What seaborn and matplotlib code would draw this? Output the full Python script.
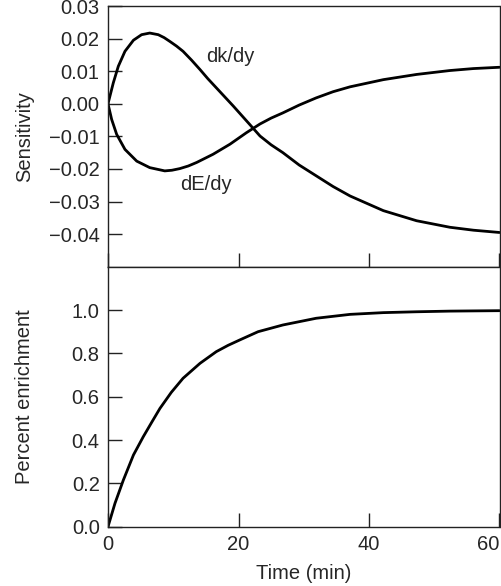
import matplotlib
matplotlib.use("Agg")
import matplotlib.pyplot as plt
import seaborn as sns
import pandas as pd

# Sensitivity of the model output to y (time in minutes)
t_dk = [0, 0.81, 1.58, 2.6, 3.9, 5.15, 6.4, 7.7, 8.6, 9.5, 10.5, 11.5, 12.8, 14.1,
        15.3, 16.6, 19.2, 21.7, 23.3, 25, 26.8, 29.3, 31.9, 34.5, 37.1, 42.2, 47.3,
        52.4, 56, 60]
dk_dy = [0, 0.0064, 0.0115, 0.0161, 0.0195, 0.0212, 0.0217, 0.0212, 0.0203, 0.0191,
         0.0177, 0.0161, 0.0134, 0.0105, 0.0077, 0.0049, -0.0007, -0.0063, -0.0099,
         -0.0126, -0.0150, -0.0188, -0.0221, -0.0254, -0.0283, -0.0328, -0.0359,
         -0.0379, -0.0388, -0.0395]

t_de = [0, 0.56, 1.33, 2.6, 4.4, 6.4, 8.7, 9.8, 11, 12.3, 13.6, 16.1, 18.7, 21.2,
        23.3, 25, 26.8, 29.3, 31.9, 34.5, 37.1, 42.2, 47.3, 52.4, 56, 60]
de_dy = [0, -0.0048, -0.0094, -0.0140, -0.0176, -0.0196, -0.0206, -0.0204, -0.0199,
         -0.0191, -0.0180, -0.0155, -0.0124, -0.0089, -0.0062, -0.0044, -0.0028,
         -0.0004, 0.0018, 0.0037, 0.0052, 0.0074, 0.0090, 0.0102, 0.0108, 0.0112]

# Enrichment over time
t_en = [0, 1.07, 2.35, 3.9, 5.4, 6.7, 7.96, 9.7, 11.5, 14.1, 16.6, 18.4, 20.2, 23,
        26.8, 31.9, 37.1, 42.2, 47.3, 52.4, 56, 60]
enrich = [0, 0.108, 0.215, 0.331, 0.415, 0.482, 0.546, 0.620, 0.685, 0.754, 0.808,
          0.837, 0.862, 0.900, 0.931, 0.962, 0.980, 0.988, 0.992, 0.995, 0.996, 0.997]

x_ticks = [0, 20, 40, 60]
sens_ticks = [0.03, 0.02, 0.01, 0.0, -0.01, -0.02, -0.03, -0.04]
enr_ticks = [0.0, 0.2, 0.4, 0.6, 0.8, 1.0]

sns.set_theme(style="ticks")
plt.rcParams["font.family"] = ["Liberation Sans", "DejaVu Sans"]
plt.rcParams["axes.unicode_minus"] = True
FS = 14.5

fig = plt.figure(figsize=(5.01, 5.86), dpi=100)
left, right = 108 / 501, 499.5 / 501
ax1 = fig.add_axes([left, 1 - 266.7 / 586, right - left, (266.7 - 6) / 586])
ax2 = fig.add_axes([left, 1 - 526.7 / 586, right - left, (526.7 - 266.7) / 586])

line_kw = dict(color="black", lw=2.0, solid_joinstyle="round", solid_capstyle="round")
sns.lineplot(data=pd.DataFrame({"t": t_dk, "v": dk_dy}), x="t", y="v", ax=ax1, **line_kw)
sns.lineplot(data=pd.DataFrame({"t": t_de, "v": de_dy}), x="t", y="v", ax=ax1, **line_kw)
sns.lineplot(data=pd.DataFrame({"t": t_en, "v": enrich}), x="t", y="v", ax=ax2, **line_kw)

ax1.text(18.7, 0.0145, "dk/dy", fontsize=FS, ha="center", va="center")
ax1.text(15.0, -0.0247, "dE/dy", fontsize=FS, ha="center", va="center")

ax1.set_xlim(0, 60)
ax1.set_ylim(-0.05, 0.03)
ax1.set_yticks(sens_ticks)
ax1.set_yticklabels([f"{v:.2f}".replace("-", "\u2212") for v in sens_ticks])
ax1.set_xticks(x_ticks)
ax1.tick_params(axis="x", labelbottom=False)
ax1.set_xlabel("")
ax1.set_ylabel("Sensitivity", fontsize=FS)

ax2.set_xlim(0, 60)
ax2.set_ylim(0, 1.2)
ax2.set_yticks(enr_ticks)
ax2.set_yticklabels([f"{v:.1f}" for v in enr_ticks])
ax2.set_xticks(x_ticks)
ax2.set_xticklabels([str(v) for v in x_ticks])
ax2.set_xlabel("Time (min)", fontsize=FS, labelpad=7)
ax2.set_ylabel("Percent enrichment", fontsize=FS)
ax2.get_xticklabels()[-1].set_horizontalalignment("right")

for ax in (ax1, ax2):
    for s in ax.spines.values():
        s.set_visible(True)
        s.set_linewidth(1.0)
        s.set_color("#222222")
    ax.tick_params(direction="in", length=10, width=1.0, color="#222222",
                   labelsize=FS, pad=6, top=False, right=False)
    ax.yaxis.set_label_coords((34 - 108) / 391.5, 0.5)

fig.savefig("out.png", dpi=100)
